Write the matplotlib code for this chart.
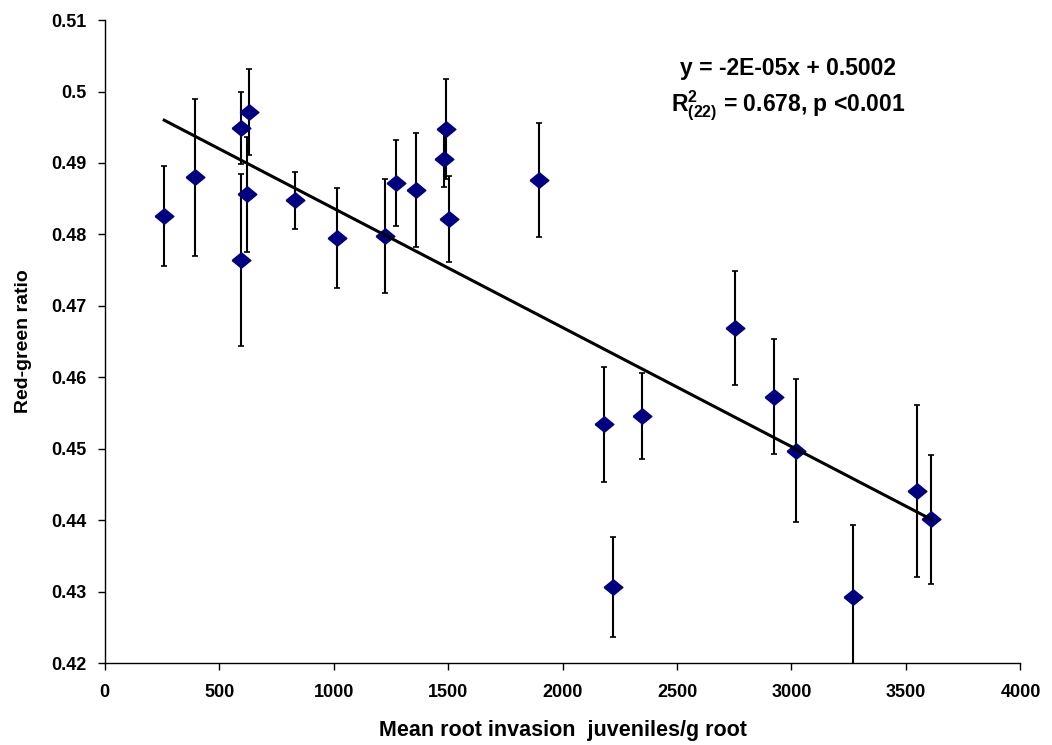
import numpy as np
import matplotlib.pyplot as plt

plt.rcParams['font.family'] = ['Liberation Sans', 'DejaVu Sans']
plt.rcParams['mathtext.fontset'] = 'custom'
plt.rcParams['mathtext.bf'] = 'Liberation Sans:bold'
plt.rcParams['mathtext.rm'] = 'Liberation Sans:bold'
plt.rcParams['mathtext.default'] = 'bf'

# Mean root invasion (juveniles/g root) and red-green ratio with error
invasion = [260, 394, 595, 630, 623, 595, 831, 1013, 1224, 1271, 1362, 1493,
            1483, 1502, 1897, 2182, 2348, 2221, 2752, 2923, 3019, 3269, 3549, 3608]
ratio = [0.4826, 0.4880, 0.4949, 0.4971, 0.4856, 0.4764, 0.4848, 0.4795,
         0.4798, 0.4872, 0.4862, 0.4948, 0.4906, 0.4822, 0.4876, 0.4534,
         0.4546, 0.4306, 0.4669, 0.4573, 0.4497, 0.4293, 0.4441, 0.4401]
ratio_err = [0.007, 0.011, 0.005, 0.006, 0.008, 0.012, 0.004, 0.007,
             0.008, 0.006, 0.008, 0.007, 0.004, 0.006, 0.008, 0.008,
             0.006, 0.007, 0.008, 0.008, 0.010, 0.010, 0.012, 0.009]

x = np.array(invasion)
y = np.array(ratio)

fig = plt.figure(figsize=(10.52, 7.45), dpi=100)
ax = fig.add_axes([0.0995, 0.110, 0.8705, 0.863])

# diamond marker a bit flatter than tall
diamond = [(-1, 0), (0, 0.82), (1, 0), (0, -0.82), (-1, 0)]

ax.errorbar(x, y, yerr=ratio_err, fmt='none', ecolor='black',
            elinewidth=1.5, capsize=2.5, capthick=1.2, zorder=2)
ax.plot(x, y, linestyle='none', marker=diamond, markersize=13.5,
        color='#000080', markeredgecolor='#000080', zorder=3)

# linear trend line
slope, intercept = np.polyfit(x, y, 1)
xl = np.array([x.min(), x.max()])
ax.plot(xl, slope * xl + intercept, color='black', linewidth=2.2, zorder=4)

ax.set_xlim(0, 4000)
ax.set_ylim(0.42, 0.51)
ax.set_xticks(np.arange(0, 4001, 500))
ax.set_yticks(np.arange(0.42, 0.5101, 0.01))
ax.set_yticklabels(['0.42', '0.43', '0.44', '0.45', '0.46', '0.47',
                    '0.48', '0.49', '0.5', '0.51'])

for s in ['top', 'right']:
    ax.spines[s].set_visible(False)
ax.spines['left'].set_linewidth(1)
ax.spines['bottom'].set_linewidth(1)
ax.tick_params(axis='both', direction='out', length=5, width=1,
               labelsize=13)
for lab in ax.get_xticklabels() + ax.get_yticklabels():
    lab.set_fontweight('bold')
ax.tick_params(axis='x', pad=10)
ax.tick_params(axis='y', pad=8)

ax.set_xlabel('Mean root invasion  juveniles/g root', fontsize=15.5,
              fontweight='bold', labelpad=14)
ax.set_ylabel('Red-green ratio', fontsize=14, fontweight='bold', labelpad=14)

ax.text(0.746, 0.925, 'y = -2E-05x + 0.5002', transform=ax.transAxes,
        ha='center', va='center', fontsize=16.5, fontweight='bold')
ax.text(0.746, 0.866, r'R$^{2}_{(22)}$ = 0.678, p <0.001',
        transform=ax.transAxes, ha='center', va='center', fontsize=16.5,
        fontweight='bold')

plt.savefig('out.png', dpi=100)
